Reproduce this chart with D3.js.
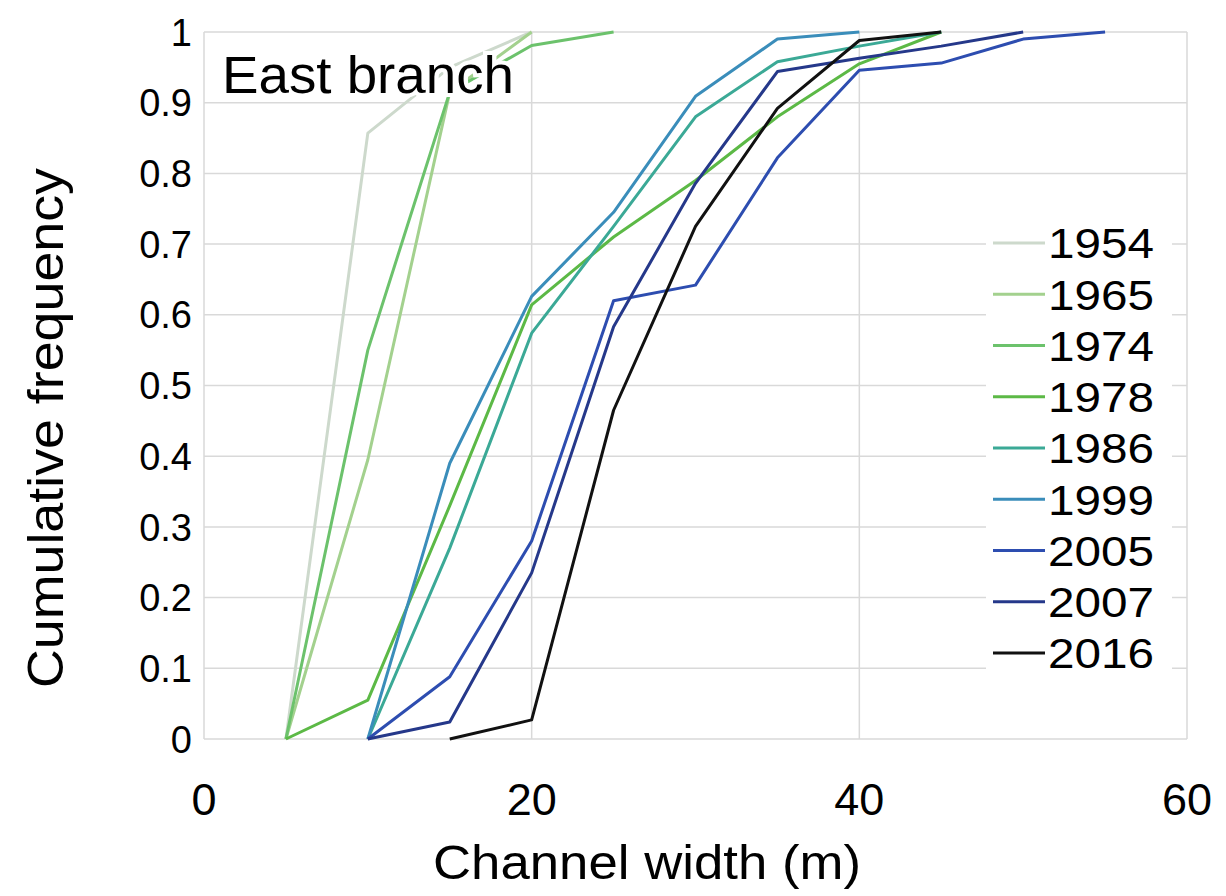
<!DOCTYPE html>
<html>
<head>
<meta charset="utf-8">
<script src="https://cdn.jsdelivr.net/npm/d3@7"></script>
<style>
  body { margin: 0; background: #fff; }
  svg text { font-family: "Liberation Sans", Arial, sans-serif; fill: #000; }
</style>
</head>
<body>
<div class="container"></div>
<script>
// channel width classes (m)
const widths = [5, 10, 15, 20, 25, 30, 35, 40, 45, 50, 55];
// cumulative frequency per year (null = no value)
const years = ["1954", "1965", "1974", "1978", "1986", "1999", "2005", "2007", "2016"];
const cf1954 = [0, 0.857, 0.95, 1.0, null, null, null, null, null, null, null];
const cf1965 = [0, 0.395, 0.915, 1.0, null, null, null, null, null, null, null];
const cf1974 = [0, 0.55, 0.915, 0.981, 1.0, null, null, null, null, null, null];
const cf1978 = [0, 0.055, 0.33, 0.614, 0.71, 0.79, 0.88, 0.955, 1.0, null, null];
const cf1986 = [null, 0, 0.27, 0.574, 0.725, 0.88, 0.958, 0.98, 1.0, null, null];
const cf1999 = [null, 0, 0.39, 0.626, 0.745, 0.909, 0.99, 1.0, null, null, null];
const cf2005 = [null, 0, 0.088, 0.28, 0.62, 0.642, 0.822, 0.946, 0.956, 0.99, 1.0];
const cf2007 = [null, 0, 0.024, 0.235, 0.583, 0.786, 0.944, 0.963, 0.98, 1.0, null];
const cf2016 = [null, null, 0, 0.027, 0.465, 0.725, 0.892, 0.988, 1.0, null, null];
const colors = ["#cdd9cc", "#a3d18e", "#6cc26c", "#5cb946", "#3ba996", "#3a8dba", "#2d4db0", "#25388a", "#111111"];
const xTicks = [0, 20, 40, 60];
const yTicks = [0, 0.1, 0.2, 0.3, 0.4, 0.5, 0.6, 0.7, 0.8, 0.9, 1];

const series = [cf1954, cf1965, cf1974, cf1978, cf1986, cf1999, cf2005, cf2007, cf2016];

const W = 1226, H = 896;
const svg = d3.select(".container").append("svg")
  .attr("width", W).attr("height", H);

const x = d3.scaleLinear().domain([0, 60]).range([204, 1187]);
const y = d3.scaleLinear().domain([0, 1]).range([739, 32]);

// gridlines
svg.append("g").selectAll("line").data(yTicks).enter().append("line")
  .attr("x1", x(0)).attr("x2", x(60))
  .attr("y1", d => y(d)).attr("y2", d => y(d))
  .attr("stroke", "#d9d9d9").attr("stroke-width", 1.5);
svg.append("g").selectAll("line").data(xTicks).enter().append("line")
  .attr("x1", d => x(d)).attr("x2", d => x(d))
  .attr("y1", y(0)).attr("y2", y(1))
  .attr("stroke", "#d9d9d9").attr("stroke-width", 1.5);

// tick labels
svg.append("g").selectAll("text").data(yTicks).enter().append("text")
  .attr("x", 192).attr("y", d => y(d))
  .attr("dy", "0.36em")
  .attr("text-anchor", "end")
  .attr("font-size", 38)
  .text(d => d3.format("")(+d.toFixed(1)));
svg.append("g").selectAll("text").data(xTicks).enter().append("text")
  .attr("x", d => x(d)).attr("y", 815)
  .attr("text-anchor", "middle")
  .attr("font-size", 45)
  .text(d => d);

// axis titles
svg.append("text")
  .attr("transform", "translate(63,428) rotate(-90)")
  .attr("text-anchor", "middle")
  .attr("font-size", 50)
  .attr("textLength", 520).attr("lengthAdjust", "spacingAndGlyphs")
  .text("Cumulative frequency");
svg.append("text")
  .attr("x", 647).attr("y", 879)
  .attr("text-anchor", "middle")
  .attr("font-size", 49)
  .attr("textLength", 428).attr("lengthAdjust", "spacingAndGlyphs")
  .text("Channel width (m)");

// lines
const line = d3.line()
  .defined(d => d[1] !== null)
  .x(d => x(d[0]))
  .y(d => y(d[1]));

svg.append("g").selectAll("path").data(series).enter().append("path")
  .attr("d", s => line(widths.map((w, i) => [w, s[i]])))
  .attr("fill", "none")
  .attr("stroke", (s, i) => colors[i])
  .attr("stroke-width", 3)
  .attr("stroke-linejoin", "round");

// title label
svg.append("text")
  .attr("x", 222).attr("y", 93)
  .attr("font-size", 51)
  .attr("textLength", 292).attr("lengthAdjust", "spacingAndGlyphs")
  .attr("stroke", "#fff").attr("stroke-width", 8)
  .attr("paint-order", "stroke")
  .text("East branch");

// legend
const legend = svg.append("g");
legend.append("rect")
  .attr("x", 986).attr("y", 216)
  .attr("width", 186).attr("height", 464)
  .attr("fill", "#fff");
const item = legend.selectAll("g.item").data(years).enter().append("g")
  .attr("class", "item")
  .attr("transform", (d, i) => "translate(0," + (243 + i * 51.25) + ")");
item.append("line")
  .attr("x1", 993).attr("x2", 1045)
  .attr("stroke", (d, i) => colors[i])
  .attr("stroke-width", 3);
item.append("text")
  .attr("x", 1048).attr("dy", "0.36em")
  .attr("font-size", 43)
  .attr("textLength", 106).attr("lengthAdjust", "spacingAndGlyphs")
  .text(d => d);
</script>
</body>
</html>
